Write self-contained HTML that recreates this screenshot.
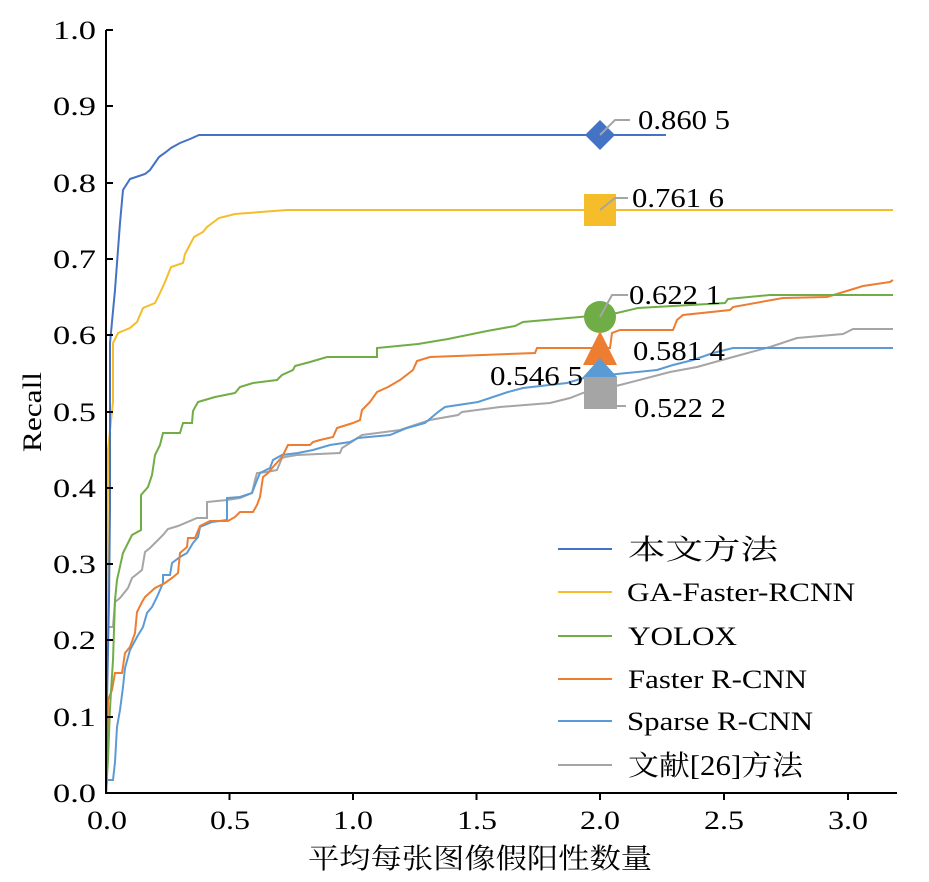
<!DOCTYPE html>
<html><head><meta charset="utf-8"><style>
html,body{margin:0;padding:0;background:#fff;}
svg{display:block;font-family:"Liberation Serif","Noto Serif CJK SC",serif;}
</style></head><body>
<svg width="929" height="882" viewBox="0 0 929 882" xmlns="http://www.w3.org/2000/svg">
<g fill="none" stroke-width="2">
<polyline stroke="#a5a5a5" points="106,793 107,780 107,627 113,627 115,602 120,598 128,588 132,578 142,570 145,552 150,548 158,540 163,535 168,529 178,526 197,518 207,518 207,502 227,500 240,498 252,493 255,480 257,473 267,472 277,470 282,458 285,457 297,455 340,453 342,448 350,443 362,435 400,430 430,420 458,415 462,412 500,407 550,403 570,398 583,393 620,385 647,378 670,372 697,367 733,357 770,347 797,338 843,334 853,329 893,329"/>
<polyline stroke="#5b9bd5" points="106,793 107,780 113,780 115,762 117,727 120,710 123,687 125,668 130,650 137,637 143,627 147,613 152,607 157,597 163,583 163,575 170,575 172,563 180,557 187,553 193,543 198,537 200,527 212,522 227,520 227,498 240,497 252,493 257,480 260,473 270,468 273,460 282,455 298,453 313,450 330,445 350,442 358,438 390,435 407,428 425,423 438,412 445,407 478,402 508,392 523,388 567,383 587,377 627,373 657,370 673,365 693,360 713,353 733,348 893,348"/>
<polyline stroke="#ed7d31" points="106,793 107,757 108,700 112,690 115,673 122,673 125,653 130,647 135,633 137,612 142,602 145,597 155,588 165,583 172,578 178,573 180,553 187,547 188,538 195,538 200,526 210,521 228,521 235,517 240,512 253,512 257,505 260,497 263,477 268,473 273,467 282,457 288,445 310,445 313,442 320,440 333,437 337,428 353,423 360,420 362,410 370,402 377,392 388,387 400,380 413,370 417,361 430,357 535,353 537,348 610,348 612,333 620,330 673,330 677,320 683,315 730,310 733,307 783,298 827,297 850,290 863,286 890,282 893,280"/>
<polyline stroke="#70ad47" points="106,793 108,760 110,708 113,660 115,600 117,580 123,553 132,535 141,530 141,495 148,487 152,475 155,455 160,445 163,433 180,433 183,423 192,423 193,411 198,402 215,397 235,393 240,387 253,383 277,380 282,375 293,370 295,366 310,362 327,357 377,357 377,348 418,344 448,339 487,331 515,326 523,322 580,317 617,313 638,308 725,303 728,299 770,295 893,295"/>
<polyline stroke="#f5bd2a" points="106,793 107,700 108,450 113,402 113,343 118,333 130,328 137,322 143,308 155,303 160,293 165,282 171,267 183,263 185,254 194,237 203,232 207,227 219,218 235,214 287,210 893,210"/>
<polyline stroke="#4472c4" points="106,793 107,700 109,600 110,507 110,343 115,290 120,223 123,190 130,179 145,174 150,170 159,157 166,152 171,148 180,143 190,139 199,135 666,135"/>
</g>
<g stroke="#000" stroke-width="2" fill="none">
<line x1="106" y1="30" x2="106" y2="794"/>
<line x1="105" y1="793" x2="897" y2="793"/>
<line x1="106" y1="30" x2="113" y2="30"/><line x1="106" y1="106" x2="113" y2="106"/><line x1="106" y1="183" x2="113" y2="183"/><line x1="106" y1="259" x2="113" y2="259"/><line x1="106" y1="335" x2="113" y2="335"/><line x1="106" y1="412" x2="113" y2="412"/><line x1="106" y1="488" x2="113" y2="488"/><line x1="106" y1="564" x2="113" y2="564"/><line x1="106" y1="640" x2="113" y2="640"/><line x1="106" y1="717" x2="113" y2="717"/>
<line x1="229.5" y1="793" x2="229.5" y2="800"/><line x1="353" y1="793" x2="353" y2="800"/><line x1="476.5" y1="793" x2="476.5" y2="800"/><line x1="600" y1="793" x2="600" y2="800"/><line x1="724" y1="793" x2="724" y2="800"/><line x1="848" y1="793" x2="848" y2="800"/>
</g>
<g font-size="26" fill="#000" text-anchor="end" lengthAdjust="spacingAndGlyphs">
<text x="96" y="39" textLength="43" lengthAdjust="spacingAndGlyphs">1.0</text><text x="96" y="115" textLength="43" lengthAdjust="spacingAndGlyphs">0.9</text><text x="96" y="192" textLength="43" lengthAdjust="spacingAndGlyphs">0.8</text><text x="96" y="268" textLength="43" lengthAdjust="spacingAndGlyphs">0.7</text><text x="96" y="344" textLength="43" lengthAdjust="spacingAndGlyphs">0.6</text><text x="96" y="421" textLength="43" lengthAdjust="spacingAndGlyphs">0.5</text><text x="96" y="497" textLength="43" lengthAdjust="spacingAndGlyphs">0.4</text><text x="96" y="573" textLength="43" lengthAdjust="spacingAndGlyphs">0.3</text><text x="96" y="649" textLength="43" lengthAdjust="spacingAndGlyphs">0.2</text><text x="96" y="726" textLength="43" lengthAdjust="spacingAndGlyphs">0.1</text><text x="96" y="802" textLength="43" lengthAdjust="spacingAndGlyphs">0.0</text>
</g>
<g font-size="26" fill="#000" text-anchor="middle">
<text x="107" y="829" textLength="40" lengthAdjust="spacingAndGlyphs">0.0</text><text x="230" y="829" textLength="40" lengthAdjust="spacingAndGlyphs">0.5</text><text x="353" y="829" textLength="40" lengthAdjust="spacingAndGlyphs">1.0</text><text x="477" y="829" textLength="40" lengthAdjust="spacingAndGlyphs">1.5</text><text x="600" y="829" textLength="40" lengthAdjust="spacingAndGlyphs">2.0</text><text x="724" y="829" textLength="40" lengthAdjust="spacingAndGlyphs">2.5</text><text x="848" y="829" textLength="40" lengthAdjust="spacingAndGlyphs">3.0</text>
<text x="480" y="868" font-size="28" textLength="344" lengthAdjust="spacingAndGlyphs">平均每张图像假阳性数量</text>
<text transform="translate(41,412) rotate(-90)" textLength="80" lengthAdjust="spacingAndGlyphs">Recall</text>
</g>
<polygon points="600,120 615,135 600,150 585,135" fill="#4472c4"/>
<rect x="584" y="194" width="32" height="32" fill="#f5bd2a"/>
<circle cx="600" cy="317" r="16" fill="#70ad47"/>
<polygon points="600,331 617,365 583,365" fill="#ed7d31"/>
<polygon points="600,358 617,377 583,377" fill="#5b9bd5"/>
<rect x="584" y="377" width="33" height="32" fill="#a5a5a5"/>
<g stroke="#a5a5a5" stroke-width="2" fill="none">
<polyline points="600,135 615,120 630,120"/>
<polyline points="600,210 615,198 628,198"/>
<polyline points="600,317 612,295 628,295"/>
<polyline points="617,406 626,406"/>
</g>
<g font-size="27" fill="#000">
<text x="638" y="129" textLength="92" lengthAdjust="spacingAndGlyphs">0.860 5</text>
<text x="632" y="207" textLength="92" lengthAdjust="spacingAndGlyphs">0.761 6</text>
<text x="629" y="304" textLength="92" lengthAdjust="spacingAndGlyphs">0.622 1</text>
<text x="633" y="360" textLength="92" lengthAdjust="spacingAndGlyphs">0.581 4</text>
<text x="490" y="385" textLength="93" lengthAdjust="spacingAndGlyphs">0.546 5</text>
<text x="634" y="417" textLength="92" lengthAdjust="spacingAndGlyphs">0.522 2</text>
</g>
<g stroke-width="2">
<line x1="558" y1="549" x2="612" y2="549" stroke="#4472c4"/>
<line x1="558" y1="592" x2="612" y2="592" stroke="#f5bd2a"/>
<line x1="558" y1="636" x2="612" y2="636" stroke="#70ad47"/>
<line x1="558" y1="679" x2="612" y2="679" stroke="#ed7d31"/>
<line x1="558" y1="721" x2="612" y2="721" stroke="#5b9bd5"/>
<line x1="558" y1="765" x2="612" y2="765" stroke="#a5a5a5"/>
</g>
<g font-size="26" fill="#000">
<text x="628" y="559" font-size="28" textLength="150" lengthAdjust="spacingAndGlyphs">本文方法</text>
<text x="627" y="601" textLength="228" lengthAdjust="spacingAndGlyphs">GA-Faster-RCNN</text>
<text x="628" y="645" textLength="109" lengthAdjust="spacingAndGlyphs">YOLOX</text>
<text x="628" y="688" textLength="179" lengthAdjust="spacingAndGlyphs">Faster R-CNN</text>
<text x="627" y="730" textLength="186" lengthAdjust="spacingAndGlyphs">Sparse R-CNN</text>
<text x="628" y="775" font-size="28" textLength="175" lengthAdjust="spacingAndGlyphs">文献[26]方法</text>
</g>
</svg>
</body></html>
